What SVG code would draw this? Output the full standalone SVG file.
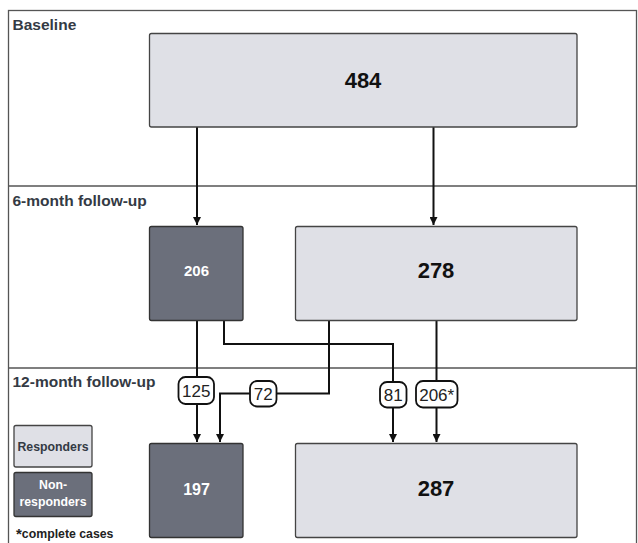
<svg xmlns="http://www.w3.org/2000/svg" width="638" height="543" viewBox="0 0 638 543">
<defs>
<marker id="ah" viewBox="0 0 10 10" refX="10" refY="5" markerWidth="4" markerHeight="4" orient="auto" markerUnits="strokeWidth">
<path d="M0,0 L10,5 L0,10 Z" fill="#111"/>
</marker>
<style>
.lane{fill:none;stroke:#555;stroke-width:1.3}
.lt{fill:#dfe0e6;stroke:#444;stroke-width:1.3}
.dk{fill:#6b6f7b;stroke:#333;stroke-width:1.3}
.lane-t{font-family:"Liberation Sans",Arial,sans-serif;font-weight:bold;font-size:15.5px;fill:#343a44}
.big{font-family:"Liberation Sans",Arial,sans-serif;font-weight:bold;font-size:22px;fill:#111;text-anchor:middle}
.wt{font-family:"Liberation Sans",Arial,sans-serif;font-weight:bold;fill:#fff;text-anchor:middle}
.conn{fill:none;stroke:#111;stroke-width:2}
.lbl{fill:#fff;stroke:#111;stroke-width:1.8}
.lt-t{font-family:"Liberation Sans",Arial,sans-serif;font-size:17px;fill:#222;text-anchor:middle}
.leg{font-family:"Liberation Sans",Arial,sans-serif;font-weight:bold;font-size:12.3px;text-anchor:middle}
</style>
</defs>
<g id="lanes">
<rect class="lane" x="8.5" y="10.5" width="628" height="540"/>
<line class="lane" x1="8.5" y1="186" x2="636.5" y2="186"/>
<line class="lane" x1="8.5" y1="368" x2="636.5" y2="368"/>
<text class="lane-t" x="12.5" y="30">Baseline</text>
<text class="lane-t" x="12.5" y="206">6-month follow-up</text>
<text class="lane-t" x="12.5" y="387">12-month follow-up</text>
</g>
<g id="connectors">
<line class="conn" x1="197" y1="127" x2="197" y2="225" marker-end="url(#ah)"/>
<line class="conn" x1="433.5" y1="127" x2="433.5" y2="225" marker-end="url(#ah)"/>
<line class="conn" x1="197" y1="321" x2="197" y2="442" marker-end="url(#ah)"/>
<polyline class="conn" points="224,321 224,344 393,344 393,442" marker-end="url(#ah)"/>
<polyline class="conn" points="329,321 329,393.5 220,393.5 220,442" marker-end="url(#ah)"/>
<line class="conn" x1="436.5" y1="321" x2="436.5" y2="442" marker-end="url(#ah)"/>
</g>
<g id="node-484">
<rect class="lt" x="149.5" y="33.5" width="427.5" height="93.5" rx="2"/>
<text class="big" x="363" y="88">484</text>
</g>
<g id="node-206">
<rect class="dk" x="149.5" y="226.5" width="93.5" height="94" rx="2"/>
<text class="wt" x="196.5" y="276" font-size="15">206</text>
</g>
<g id="node-278">
<rect class="lt" x="295.5" y="226.5" width="281.5" height="94" rx="2"/>
<text class="big" x="436" y="278">278</text>
</g>
<g id="node-197">
<rect class="dk" x="149.5" y="443.5" width="93.5" height="94" rx="2"/>
<text class="wt" x="196.5" y="495" font-size="16">197</text>
</g>
<g id="node-287">
<rect class="lt" x="295.5" y="443.5" width="281.5" height="94" rx="2"/>
<text class="big" x="436" y="496">287</text>
</g>
<g id="label-125">
<rect class="lbl" x="178.5" y="377" width="35.5" height="27" rx="7"/>
<text class="lt-t" x="196.3" y="396.5">125</text>
</g>
<g id="label-72">
<rect class="lbl" x="250" y="381" width="26.5" height="25.5" rx="7"/>
<text class="lt-t" x="263.3" y="400">72</text>
</g>
<g id="label-81">
<rect class="lbl" x="380" y="382" width="26.5" height="25.5" rx="7"/>
<text class="lt-t" x="393.3" y="401">81</text>
</g>
<g id="label-206s">
<rect class="lbl" x="416" y="381" width="41.5" height="26.5" rx="7"/>
<text class="lt-t" x="436.7" y="400.5">206*</text>
</g>
<g id="legend-responders">
<rect class="lt" x="14" y="425.5" width="78" height="41.5" rx="2"/>
<text class="leg" x="53" y="450.5" fill="#333a44">Responders</text>
</g>
<g id="legend-nonresponders">
<rect class="dk" x="14" y="472.5" width="78" height="44" rx="2"/>
<text class="leg" x="53" y="489" fill="#fff">Non-</text>
<text class="leg" x="53" y="506" fill="#fff">responders</text>
</g>
<g id="legend-note">
<text x="16" y="538" font-family="&quot;Liberation Sans&quot;,Arial,sans-serif" font-weight="bold" font-size="12.3" fill="#222"><tspan font-size="15" dy="1">*</tspan><tspan dy="-1">complete cases</tspan></text>
</g>
</svg>
